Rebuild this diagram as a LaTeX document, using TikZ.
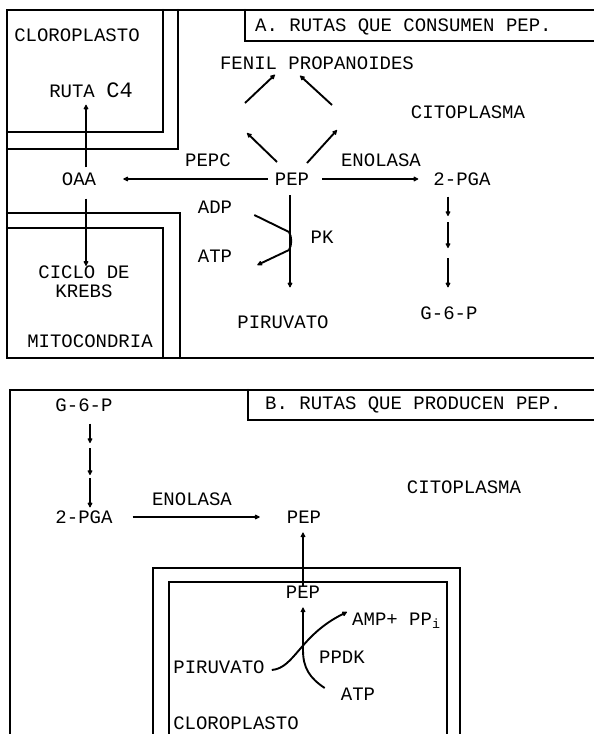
\documentclass[tikz,border=0pt]{standalone}
\usepackage{fontspec}
\usepackage{tikz}
\usetikzlibrary{arrows.meta}
\newfontfamily\labelfont{Liberation Mono}

\begin{document}
\begin{tikzpicture}[
  x=1pt, y=-1pt,
  lbl/.style={inner sep=0pt,font=\labelfont\fontsize{19}{19}\selectfont},
  wall/.style={line width=2.3pt,line cap=round},
  arrow/.style={-{Latex[length=6pt,width=6pt,round]},line width=1.9pt}
]
\useasboundingbox[fill=white] (0,0) rectangle (594,734);
\draw[wall] (594,10) -- (7,10) -- (7,358) -- (594,358);
\draw[wall] (245,10) -- (245,41) -- (594,41);
\draw[wall] (7,132) -- (163,132) -- (163,10);
\draw[wall] (178,10) -- (178,149) -- (7,149);
\draw[wall] (7,213) -- (180,213) -- (180,358);
\draw[wall] (7,228) -- (163,228) -- (163,358);
\draw[wall] (594,390) -- (10,390) -- (10,734);
\draw[wall] (248,390) -- (248,420) -- (594,420);
\draw[wall] (153,734) -- (153,568) -- (460,568) -- (460,734);
\draw[wall] (169,734) -- (169,582) -- (447,582) -- (447,734);

\node[lbl] (cloroA) at (77,35) {CLOROPLASTO};
\node[lbl] (ruta) at (91,90) {RUTA {\fontsize{22}{22}\selectfont C4}};
\node[lbl] (oaa) at (79,179) {OAA};
\node[lbl,align=center] (krebs) at (84,282) {CICLO DE\\KREBS};
\node[lbl] (mito) at (90,341) {MITOCONDRIA};
\node[lbl,anchor=west] (titA) at (255,27) {A. RUTAS QUE CONSUMEN PEP.};
\node[lbl] (fenil) at (317,63) {FENIL PROPANOIDES};
\node[lbl] (citoA) at (468,112) {CITOPLASMA};
\node[lbl] (pepc) at (208,160) {PEPC};
\node[lbl] (pepA) at (292,179) {PEP};
\node[lbl] (enolA) at (381,160) {ENOLASA};
\node[lbl] (pgaA) at (462,179) {2-PGA};
\node[lbl] (adp) at (215,207) {ADP};
\node[lbl] (atpA) at (215,256) {ATP};
\node[lbl] (pk) at (322,237) {PK};
\node[lbl] (piruA) at (283,322) {PIRUVATO};
\node[lbl] (g6pA) at (449,313) {G-6-P};

\node[lbl,anchor=west] (titB) at (265,405) {B. RUTAS QUE PRODUCEN PEP.};
\node[lbl] (g6pB) at (84,405) {G-6-P};
\node[lbl] (pgaB) at (84,517) {2-PGA};
\node[lbl] (enolB) at (192,499) {ENOLASA};
\node[lbl] (pepB) at (304,517) {PEP};
\node[lbl] (citoB) at (464,487) {CITOPLASMA};
\node[lbl] (pepC) at (303,592) {PEP};
\node[lbl,anchor=base west] (amp) at (352,625) {AMP+ PP\textsubscript{i}};
\node[lbl] (ppdk) at (342,657) {PPDK};
\node[lbl] (piruB) at (219,667) {PIRUVATO};
\node[lbl] (atpB) at (358,694) {ATP};
\node[lbl] (cloroB) at (236,723) {CLOROPLASTO};

\coordinate (dl1) at (247,133);
\coordinate (dl2) at (245,103);
\coordinate (dr1) at (337,130);
\coordinate (dr2) at (332,105);
\coordinate (pk1) at (289,232);
\coordinate (pk2) at (289,250);
\coordinate (ga1) at (448,216);
\coordinate (ga2) at (448,222);
\coordinate (ga3) at (448,248);
\coordinate (ga4) at (448,258);
\coordinate (gb1) at (90,443);
\coordinate (gb2) at (90,448);
\coordinate (gb3) at (90,475);
\coordinate (gb4) at (90,478);

\draw[arrow,shorten <=5pt,shorten >=7pt] ([xshift=7pt]oaa.north) -- ([xshift=7pt]oaa.north |- ruta.south);
\draw[arrow,shorten <=13pt] ([xshift=7pt]oaa.south) -- ([xshift=7pt]oaa.south |- krebs.north);
\draw[arrow,shorten <=7pt,shorten >=27pt] (pepA.west) -- (oaa.east);
\draw[arrow,shorten <=13pt,shorten >=15pt] (pepA.east) -- (pgaA.west);
\draw[arrow] ([shift={(-15,-17)}]pepA.center) -- (dl1);
\draw[arrow] (dl2) -- ([shift={(-42,5)}]fenil.south);
\draw[arrow] ([shift={(15,-16)}]pepA.center) -- (dr1);
\draw[arrow] (dr2) -- ([shift={(-17,6)}]fenil.south);
\draw[arrow,shorten <=10pt,shorten >=28pt] ([xshift=-2pt]pepA.south) -- ([xshift=-2pt]pepA.south |- piruA.north);
\draw[arrow] ([shift={(22,8)}]adp.east) -- (pk1) .. controls (292,237) and (292,245) .. (pk2) -- ([shift={(25,9)}]atpA.east);
\draw[arrow,shorten <=11pt] ([xshift=-14pt]pgaA.south) -- (ga1);
\draw[arrow] (ga2) -- (ga3);
\draw[arrow,shorten >=19pt] (ga4) -- (ga4 |- g6pA.north);

\draw[arrow,shorten <=12pt] ([xshift=6pt]g6pB.south) -- (gb1);
\draw[arrow] (gb2) -- (gb3);
\draw[arrow,shorten >=3pt] (gb4) -- (gb4 |- pgaB.north);
\draw[arrow,shorten <=20pt,shorten >=27pt] (pgaB.east) -- (pepB.west);
\draw[arrow,shorten >=9pt] (pepC.north) -- (pepC.north |- pepB.south);
\draw[arrow,shorten >=9pt] ([shift={(-16,-6)}]atpB.west) .. controls +(-15,-10) and +(0,18) .. (pepC.south |- 0,650) -- (pepC.south);
\draw[arrow] ([shift={(7,3)}]piruB.east) .. controls +(23,-2) and +(-47,23) .. ([shift={(-5,-13)}]amp.base west);
\end{tikzpicture}
\end{document}
